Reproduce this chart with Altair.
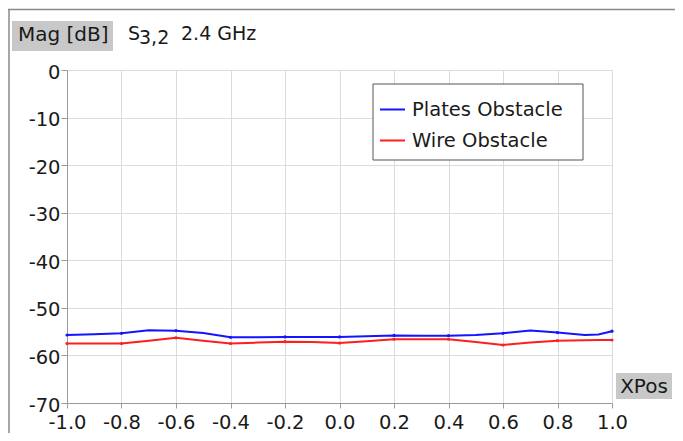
import altair as alt
import pandas as pd

xpos = [-1.0, -0.9, -0.8, -0.7, -0.6, -0.5, -0.4, -0.3, -0.2, -0.1, 0.0,
        0.1, 0.2, 0.3, 0.4, 0.5, 0.6, 0.7, 0.8, 0.9, 0.95, 1.0]
plates = [-55.7, -55.55, -55.35, -54.7, -54.8, -55.3, -56.2, -56.2, -56.1, -56.1, -56.1,
          -55.95, -55.8, -55.85, -55.85, -55.7, -55.35, -54.75, -55.2, -55.7, -55.6, -54.9]
wire = [-57.5, -57.5, -57.5, -56.9, -56.3, -56.9, -57.5, -57.3, -57.1, -57.2, -57.4,
        -57.0, -56.6, -56.6, -56.6, -57.2, -57.8, -57.3, -56.9, -56.8, -56.75, -56.75]
series = ["Plates Obstacle", "Wire Obstacle"]
x_ticks = [-1.0, -0.8, -0.6, -0.4, -0.2, 0.0, 0.2, 0.4, 0.6, 0.8, 1.0]
y_ticks = [-70, -60, -50, -40, -30, -20, -10, 0]

rows = []
for name, vals in zip(series, [plates, wire]):
    for xv, yv in zip(xpos, vals):
        k = round(xv * 10)
        rows.append({"XPos": xv, "Mag": yv, "Series": name,
                     "marker": (abs(k) % 2 == 0) and abs(xv * 10 - k) < 1e-9})
df = pd.DataFrame(rows)

FONT = "DejaVu Sans"
TXT = "#1a1a1a"

xscale = alt.Scale(domain=[-1, 1], nice=False, zero=False)
yscale = alt.Scale(domain=[-70, 0], nice=False, zero=False)

base = alt.Chart(df)

lines = base.mark_line(strokeWidth=2).encode(
    x=alt.X("XPos:Q", scale=xscale,
            axis=alt.Axis(values=x_ticks, title=None, tickSize=5, labelPadding=5,
                          labelFlush=False, labelOverlap=False,
                          labelExpr="(datum.value < 0 ? '-' : '') + format(abs(datum.value), '.1f')",
                          gridColor="#dcdcdc", domainColor="#9a9a9a", tickColor="#9a9a9a",
                          labelFontSize=19.5, labelFont=FONT, labelColor=TXT)),
    y=alt.Y("Mag:Q", scale=yscale,
            axis=alt.Axis(values=y_ticks, title=None, tickSize=6, labelPadding=1,
                          labelFlush=False, labelOverlap=False,
                          labelBaseline="middle", labelOffset=2,
                          labelExpr="'' + datum.value",
                          gridColor="#dcdcdc", domainColor="#9a9a9a", tickColor="#9a9a9a",
                          labelFontSize=19.5, labelFont=FONT, labelColor=TXT)),
    color=alt.Color("Series:N",
                    scale=alt.Scale(domain=series, range=["#1414ff", "#ff1e1e"]),
                    legend=alt.Legend(title=None, orient="none", legendX=312, legendY=26,
                                      symbolType="stroke", symbolSize=625, symbolStrokeWidth=2,
                                      labelFontSize=19.5, labelFont=FONT, labelColor=TXT,
                                      labelOffset=6, rowPadding=8, padding=0)),
)

pts_p = base.transform_filter(
    (alt.datum.Series == series[0]) & alt.datum.marker
).mark_point(filled=True, size=10, color="#1414ff", opacity=1).encode(
    x=alt.X("XPos:Q", scale=xscale), y=alt.Y("Mag:Q", scale=yscale))
pts_w = base.transform_filter(
    (alt.datum.Series == series[1]) & alt.datum.marker
).mark_point(filled=True, size=10, color="#ff1e1e", opacity=1).encode(
    x=alt.X("XPos:Q", scale=xscale), y=alt.Y("Mag:Q", scale=yscale))

one = alt.Chart(pd.DataFrame({"k": [0]}))

legend_box = one.mark_rect(fill="white", stroke="#555555", strokeWidth=1).encode(
    x=alt.value(306), x2=alt.value(516), y=alt.value(14), y2=alt.value(90))

mag_box = one.mark_rect(fill="#c8c8c8").encode(
    x=alt.value(-55), x2=alt.value(46), y=alt.value(-49), y2=alt.value(-19))
mag_txt = one.mark_text(align="left", baseline="alphabetic", fontSize=20, font=FONT, color=TXT).encode(
    x=alt.value(-49), y=alt.value(-29), text=alt.value("Mag [dB]"))
s_txt = one.mark_text(align="left", baseline="alphabetic", fontSize=19, font=FONT, color=TXT).encode(
    x=alt.value(61), y=alt.value(-30), text=alt.value("S"))
sub_txt = one.mark_text(align="left", baseline="alphabetic", fontSize=19, font=FONT, color=TXT).encode(
    x=alt.value(72), y=alt.value(-26), text=alt.value("3,2"))
ghz_txt = one.mark_text(align="left", baseline="alphabetic", fontSize=19, font=FONT, color=TXT).encode(
    x=alt.value(114), y=alt.value(-30), text=alt.value("2.4 GHz"))

xpos_box = one.mark_rect(fill="#c8c8c8").encode(
    x=alt.value(549), x2=alt.value(605), y=alt.value(303), y2=alt.value(329))
xpos_txt = one.mark_text(align="center", baseline="alphabetic", fontSize=20, font=FONT, color=TXT).encode(
    x=alt.value(577), y=alt.value(323), text=alt.value("XPos"))

frame_top = one.mark_rule(color="#8a8a8a", strokeWidth=1.5).encode(
    x=alt.value(-59), x2=alt.value(608), y=alt.value(-60.5), y2=alt.value(-60.5))
frame_left = one.mark_rule(color="#8a8a8a", strokeWidth=1.5).encode(
    x=alt.value(-58), x2=alt.value(-58), y=alt.value(-61), y2=alt.value(365))

chart = alt.layer(
    lines, pts_p, pts_w, legend_box, mag_box, mag_txt, s_txt, sub_txt, ghz_txt,
    xpos_box, xpos_txt, frame_top, frame_left
).properties(
    width=545, height=333,
    autosize=alt.AutoSizeParams(type="none"),
    padding={"left": 59, "top": 62, "right": 63, "bottom": 30},
).configure_view(stroke=None).configure(background="white")

chart.save("out.html", embed_options={"renderer": "svg", "actions": False})
